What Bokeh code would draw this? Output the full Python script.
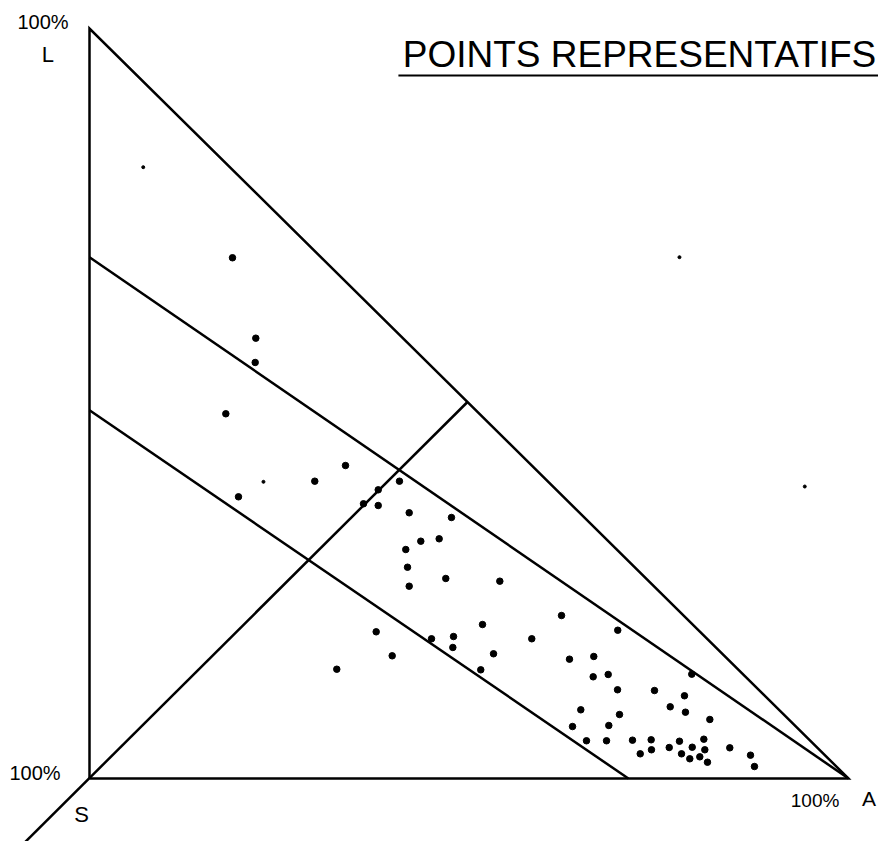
from bokeh.plotting import figure
from bokeh.models import Range1d
from bokeh.core.properties import value
from bokeh.embed import file_html
from bokeh.resources import INLINE

# Coordinates: A% along the base, L% up the vertical side (S at origin)
tri_A = [0, 100, 0, 0]
tri_L = [0, 0, 100, 0]

upper_A = [0, 100]
upper_L = [69.5, 0]
lower_A = [0, 71.0]
lower_L = [49.1, 0]
diag_A = [-8.9, 49.8]
diag_L = [-8.9, 50.2]

pts_A = [18.84, 21.91, 21.83, 17.96, 19.63, 33.73, 29.68, 40.84, 38.04, 36.10,
         38.04, 42.12, 47.69, 46.07, 43.65, 41.67, 41.90, 46.94, 54.06, 42.12,
         51.78, 37.77, 45.06, 47.96, 47.87, 53.23, 39.88, 32.58, 51.55, 62.19,
         58.27, 69.60, 63.24, 66.44, 66.36, 68.34, 79.35, 69.57, 74.44, 78.39,
         76.51, 78.52, 64.73, 69.83, 81.73, 63.64, 68.42, 65.48, 68.12, 71.54,
         74.00, 77.73, 80.94, 72.56, 74.04, 76.38, 79.41, 81.07, 78.00, 79.09,
         80.41, 81.42, 84.36, 87.09, 87.61]
pts_L = [69.43, 58.71, 55.47, 48.63, 37.56, 41.73, 39.64, 39.64, 38.49, 36.63,
         36.40, 35.43, 34.80, 31.96, 31.64, 30.53, 28.17, 26.67, 26.31, 25.64,
         20.53, 19.56, 18.63, 18.93, 17.47, 16.63, 16.36, 14.57, 14.49, 21.73,
         18.63, 19.77, 15.91, 16.27, 13.56, 13.87, 13.91, 11.83, 11.73, 11.03,
          9.56,  8.84,  9.16,  8.53,  7.87,  6.93,  7.07,  5.03,  5.03,  5.11,
          5.16,  4.97,  5.24,  3.29,  3.83,  4.13,  4.17,  3.83,  3.29,  2.63,
          2.89,  2.17,  4.09,  3.11,  1.60]

small_A = [7.08, 22.92, 77.73, 94.24]
small_L = [81.51, 39.56, 69.51, 38.93]

title = "POINTS REPRESENTATIFS"
font = value("Liberation Sans")

W, H = 878, 841
p = figure(width=W, height=H, output_backend="svg", toolbar_location=None,
           x_axis_location=None, y_axis_location=None,
           x_range=Range1d(-89 / 7.59, (W - 89) / 7.59),
           y_range=Range1d((778 - H) / 7.5, 778 / 7.5),
           min_border=0, outline_line_color=None, background_fill_color="white")
p.grid.visible = False

lw = 2.5
p.line(tri_A, tri_L, line_color="black", line_width=lw, line_join="miter")
p.line(upper_A, upper_L, line_color="black", line_width=lw)
p.line(lower_A, lower_L, line_color="black", line_width=lw)
p.line(diag_A, diag_L, line_color="black", line_width=lw)

p.scatter(pts_A, pts_L, size=6.5, color="black")
p.scatter(small_A, small_L, size=3, color="black")


def label(x, y, s, size):
    p.text(x=[x], y=[y], text=[s], text_font=font, text_font_size=size,
           text_align="center", text_baseline="middle", text_color="black")


label(-6.13, 100.87, "100%", "20px")
label(-5.47, 96.6, "L", "22px")
label(-7.18, 0.73, "100%", "20px")
label(-1.05, -4.8, "S", "22px")
label(95.6, -2.93, "100%", "19px")
label(102.7, -2.6, "A", "21px")
label(72.46, 96.6, title, "37px")
p.line([40.7, 103.9], [93.73, 93.73], line_color="black", line_width=2)

open("out.html", "w").write(file_html(p, INLINE))
